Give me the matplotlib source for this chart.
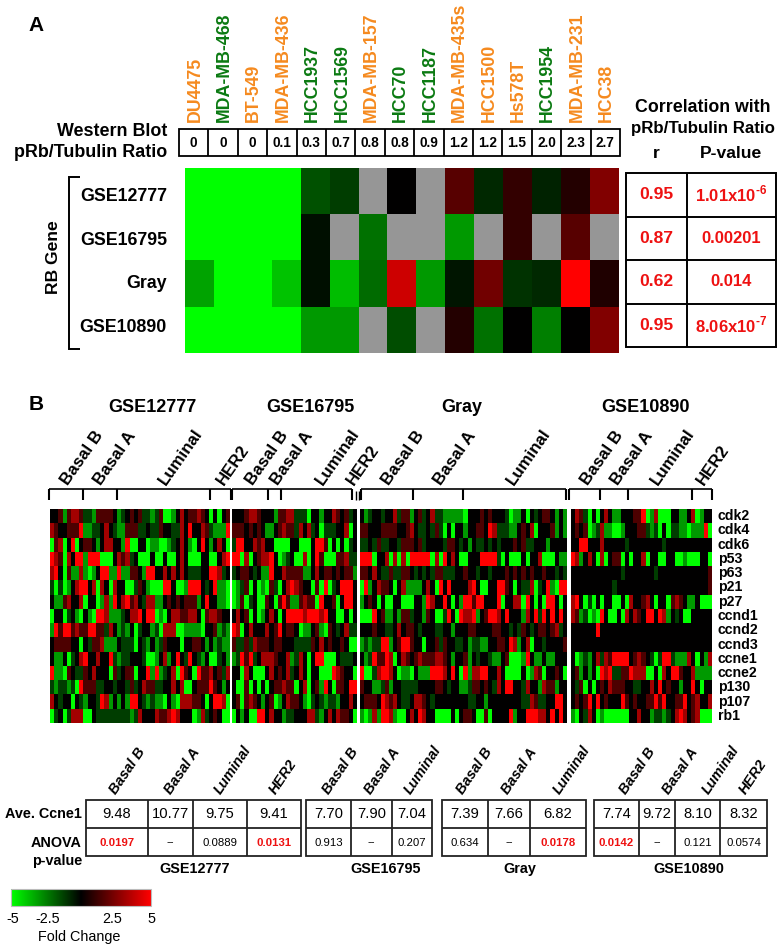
import numpy as np
import matplotlib
matplotlib.use("Agg")
import matplotlib.pyplot as plt
from matplotlib.colors import LinearSegmentedColormap, Normalize
from matplotlib.patches import Rectangle

plt.rcParams['font.family'] = ['Liberation Sans', 'DejaVu Sans']
plt.rcParams['mathtext.fontset'] = 'custom'
plt.rcParams['mathtext.bf'] = 'Liberation Sans:bold'
plt.rcParams['mathtext.rm'] = 'Liberation Sans:bold'

# ---------- Panel A data ----------
cell_lines = ["DU4475","MDA-MB-468","BT-549","MDA-MB-436","HCC1937","HCC1569","MDA-MB-157","HCC70",
              "HCC1187","MDA-MB-435s","HCC1500","Hs578T","HCC1954","MDA-MB-231","HCC38"]
cell_subtype = ["o","g","o","o","g","g","o","g","g","o","o","o","g","o","o"]
blot_ratio = ["0","0","0","0.1","0.3","0.7","0.8","0.8","0.9","1.2","1.2","1.5","2.0","2.3","2.7"]
rb_datasets = ["GSE12777","GSE16795","Gray","GSE10890"]
n = np.nan
rb_gse12777 = [-5,-5,-5,-5,-1.6,-1.2,n,0,n,1.7,-0.8,1.0,-0.7,0.7,2.5]
rb_gse16795 = [-5,-5,-5,-5,-0.3,n,-2.2,n,n,-3.0,n,1.0,n,1.7,n]
rb_gray     = [-3.2,-5,-5,-3.8,-0.3,-3.7,-2.1,4,-3,-0.4,2.2,-1.0,-0.8,5,0.6]
rb_gse10890 = [-5,-5,-5,-5,-3.0,-3.0,n,-1.5,n,0.7,-2.2,0,-2.5,0,2.5]
corr_r = ["0.95","0.87","0.62","0.95"]
corr_p = [r"1.01x10$^{\text{-6}}$","0.00201","0.014",r"8.06x10$^{\text{-7}}$"]

# ---------- Panel B data (level codes, one string per gene) ----------
genes = ["cdk2","cdk4","cdk6","p53","p63","p21","p27","ccnd1","ccnd2","ccnd3","ccne1","ccne2","p130","p107","rb1"]
level = {"G":-5.0,"g":-3.0,"d":-1.2,"k":0.0,"r":1.5,"R":3.2,"X":5.0}
hm_gse12777 = [
 "kkrgrRRrddgrrrrkgdkrkrd"+"dgdrGGgkRkrrRrkGkGkr",
 "RrkkrrrXggddkRkdggrrrdd"+"kddrkkddRkXkkRrdgggX",
 "GrRGkXGkrrkgkRRkkgXGGkk"+"GggGGgdkRkgGkXkgkRkG",
 "XRrGRkXXgXXXGGGkRrRdkGG"+"GkGGkGGkRkGGGkkGGkRX",
 "RXkGrggRgGgkXXggXggrrkg"+"XXkkRkRkRkdddkkXXRdk",
 "dGdGgkRXXkRGRkGRkkGGdrk"+"gGGGXXkGGgXXXkdkXggG",
 "kggrRkkRGkkGgRgXkRXrRkd"+"RRggkrkrkrrrgkXkkggG",
 "GkkGdkgGkgGXXRgggdkRRXk"+"XXGgGkRRrrRRkGrRRrkk",
 "gXrXXrRrrXXrrdRkgdgkGdk"+"kgdGRRRGGggggGkkrgdg",
 "krrrrkkGkdrrRgggkdddGkd"+"gkgdrkkkGkkrrkgkgdgg",
 "kggkGdkRXkkRkkXdgddkkkd"+"GGgkRgkXkdXkdgkGGdkg",
 "XggGrkddrkRkkkGrdkrrGkk"+"XgXgdkRGXrkGXrrRkrdR",
 "dgddgdGXrrrddkkdkkdrdkR"+"rrddkkRkRGGkrrrXrkgk",
 "RkdkkGkdgkkdXRgkgkgXXkdgdggGkgGRRRrrkGkXXRG",
 "GdkGdRRRGGkddddddddgdRkkkRrrRXRkkkGgRdkrkGG",
]
hm_gse16795 = [
 "kkkrRRrkkkgrrRRdddGkkgkkRrkrdk",
 "rrrkrkrkggkrRrrdRkRdkGdddkkRGk",
 "dXXkkRrRkkGGGGkkGGGkXXrGkGkGdk",
 "XXGRGkrRRXkGgdkGGRGkXrGGGrrRdd",
 "dkrrkdkggXkkRrrrrggkRkrrkrkrrg",
 "GgdrGkGgGrdGkRXRrkkGrGXGdkXXXk",
 "GgrGdkGGrkGrXrggrRrrGXkkrGkXXk",
 "kRkrGkGgkRkGkXXXXRXXXRXkkGGkGk",
 "XRGkRkkkRkrXkrrkGggkrgGrkdkRdd",
 "rddrdRrrrkrrkkkddddrkRkrkkrkGG",
 "gdXrXdkRRRrkkRgdRkGkXXGGGkdddk",
 "kkGRkGGGkRkrkRdkRkGkkGGGXRrkkG",
 "kGGrGkGkGkrrRrrGkRGkrgXkGrrkXX",
 "krGrRrkgkrGgkRrrkgGdkdgddgkkRk",
 "GkgkGGXXkRkkgddkkkRRdgkRkRrrkG",
]
hm_gray = [
 "kgdkkdkkRdrrgkrdkRddggggg"+"GkkkrkrkkkdGggkGkdkrrkgkg",
 "rrkkkrrrrkkrRkddkdrdGkGkk"+"gkkrrkXRdddggkrkRGkkkrgkg",
 "ddkdrddkkdrrrkrdkkkkdrrkd"+"kgkddkdkdkkkrkrddkkkgkkkk",
 "XXXGkkRGRGRGXXXXXGRGXkRkG"+"GkkkXXXXdGkGGGkGkkRGGGkgg",
 "rrkRkddrddrrkdkdkdrrdddkk"+"rkkdkkdkkkrkrkrkrkkrkkdkd",
 "GXgkRrrkGkRggggkRkGXkXkkk"+"kRXkGGkkXXrkGkddRGdkXgGXX",
 "gkrkGkGGkkGGGkkgXRkkXkGkg"+"XXrXXkkkXGkkRRGXkGkGXXkGk",
 "GGGXkrggkgrrdkkgrkGGdXkGX"+"RRXgkrXXRkXkkkgRkXdXkXkXk",
 "kkkrkkddkRkrrkdkkkddkkgkk"+"krrkkkkrrkkdkdrkdkrrkrRdk",
 "gdgddXXgkrXXrkkGkkrdrkkdd"+"kgddggkkrrkXRgkRGkkdkkkkr",
 "kgdXrrXRGkRrkrRrrrRRrkgkk"+"rgkdkkdggkrGGGgXkggkggkkk",
 "XGGdRXXRkGggGkgggXXXRkXkG"+"XgRRXXkkRkGGGGkGgRrGkkrkG",
 "rkkggdrgkkddddkkkkrrkdkkg"+"gdrrkrkdRkXXkkdRkkgRrrgkk",
 "krrrkXRrRkddkRRrkdkkkkkkkkddkkgkkkkkkkkddRrddkkXXk",
 "gGgRgXXRgGGkRkXRkkGGGGkGkrrkGGrGkkkkXgkkXXXRRkXkXk",
]
hm_gse10890 = [
 "kRrdGkGkRkggkkkrrXGgRGGGkkggkRGgkk",
 "krkrGgdRggGGgkkkrrdgdGkGddggGgggXG",
 "kkXXkkkRkkkkkdkkkkkkkkdkkkkkkkkkkk",
 "XRgkRkGRGkrrGkGkkRGkkGGkkGGgGGGkkG",
 "kkkkkkkkkkkkdkkkkkkkdkkkkkkkkkkkkr",
 "kkkkkkkkkkdkkkkkkkkkkkkkkkkkkkkkkr",
 "RXkGdGkGkkGGkGRkkrRkGkkGrRrkggkGGG",
 "RrgdGgGXkGGkGRkRrkXXkXRgkdkGGkkkkk",
 "kkkkkkXkkkkkkkkkkkkkkkkkkkkkkkkkkk",
 "kkkkkkkkkkkkkkkkkkkkkkkkkkkkkkkkkk",
 "kGgdgkRdRrXXXXkrRrkdGdXXdgggRkGkgR",
 "krgkgkGXRXddrrXRRRGGkGRkXXrkkRgggg",
 "kdrGkGkrkRrrrkkddkkRkXkrkkgkkXkGkk",
 "krkrXkXkrkkkXrkrkkrrXrXkkrrXkrRkkR",
 "gGkdRkGgGGGGGGkkRkkgddgdkRXRkrRGGG",
]
subtype_names = [["Basal B","Basal A","Luminal","HER2"],["Basal B","Basal A","Luminal","HER2"],
                 ["Basal B","Basal A","Luminal"],["Basal B","Basal A","Luminal","HER2"]]
ave_ccne1 = [["9.48","10.77","9.75","9.41"],["7.70","7.90","7.04"],["7.39","7.66","6.82"],["7.74","9.72","8.10","8.32"]]
anova_p = [["0.0197","--","0.0889","0.0131"],["0.913","--","0.207"],["0.634","--","0.0178"],["0.0142","--","0.121","0.0574"]]

# ---------- Layout (pixels) ----------
W, H = 783, 949
fig = plt.figure(figsize=(W/100, H/100), dpi=100, facecolor="white")
ax = fig.add_axes([0, 0, 1, 1])
cmap = LinearSegmentedColormap.from_list("gbr", ["#00FF00", "#000000", "#FF0000"])
cmap.set_bad("#969696")
norm = Normalize(-5, 5)
ORANGE, DGREEN, RED = "#F58A1F", "#0B7A12", "#EE1111"

def T(x, y, s, size=11, weight="bold", color="black", ha="center", va="center", **kw):
    return ax.text(x, y, s, fontsize=size, fontweight=weight, color=color, ha=ha, va=va, **kw)

def L(xs, ys, lw=1.4, color="black"):
    ax.plot(xs, ys, color=color, lw=lw, solid_capstyle="butt", solid_joinstyle="miter")

def grid_table(x0, x1, y0, y1, xdiv, ydiv, lw=1.3, color="black"):
    ax.add_patch(Rectangle((x0, y0), x1-x0, y1-y0, fill=False, ec=color, lw=lw))
    for x in xdiv:
        L([x, x], [y0, y1], lw, color)
    for y in ydiv:
        L([x0, x1], [y, y], lw, color)

# Panel A
T(36, 25, "A", size=15, ha="center")
for i, (name, kind) in enumerate(zip(cell_lines, cell_subtype)):
    T(195 + 29.4*i, 122, name, size=12.8, color=ORANGE if kind == "o" else DGREEN,
      rotation=90, ha="center", va="bottom")
T(167, 131, "Western Blot", size=12.9, ha="right")
T(167, 152, "pRb/Tubulin Ratio", size=12.9, ha="right")
tx = np.linspace(179, 620, len(blot_ratio)+1)
grid_table(179, 620, 128.5, 155.5, tx[1:-1], [], lw=1.3)
for i, v in enumerate(blot_ratio):
    T((tx[i]+tx[i+1])/2, 142.5, v, size=9.8)

rb = np.array([rb_gse12777, rb_gse16795, rb_gray, rb_gse10890], dtype=float)
ax.imshow(np.ma.masked_invalid(rb), cmap=cmap, norm=norm, extent=(185, 619, 353, 168),
          aspect="auto", interpolation="nearest", zorder=1)
L([80, 69, 69, 80], [177, 177, 349, 349], lw=1.4)
T(53, 257, "RB Gene", size=12.6, rotation=90)
for y, name in zip([196, 240, 283, 327], rb_datasets):
    T(167, y, name, size=12.8, ha="right")

T(703, 107, "Correlation with", size=12.8)
T(703, 128, "pRb/Tubulin Ratio", size=12.2)
T(656, 153, "r", size=12.6)
T(731, 153, "P-value", size=12.6)
ty = [173, 217, 260, 304, 347]
grid_table(626, 776, 173, 347, [687], ty[1:-1], lw=1.4)
for i in range(4):
    yc = (ty[i]+ty[i+1])/2 - 0.5
    T(656.5, yc, corr_r[i], size=12.6, color=RED)
    T(731.5, yc, corr_p[i], size=12.0, color=RED)

# Panel B
T(36, 405, "B", size=15)
panel_x = [(50, 230), (232, 357), (360, 567), (571, 712)]
heat = [hm_gse12777, hm_gse16795, hm_gray, hm_gse10890]
for (x0, x1), rows in zip(panel_x, heat):
    assert len({len(r) for r in rows}) == 1, [len(r) for r in rows]
    arr = np.array([[level[c] for c in r] for r in rows])
    ax.imshow(arr, cmap=cmap, norm=norm, extent=(x0, x1, 723, 509), aspect="auto",
              interpolation="nearest", zorder=1)
for i, g in enumerate(genes):
    T(718, 509 + (i+0.5)*214/15, g, size=10.2, ha="left")

for x, name in zip([152, 310, 462, 646], rb_datasets):
    T(x, 407, name, size=13)

top_x = [[62, 95, 160, 218], [247, 272, 317, 348], [383, 435, 508], [582, 612, 652, 698]]
for xs, names in zip(top_x, subtype_names):
    for x, nm in zip(xs, names):
        ax.text(x+6, 486, nm, fontsize=12.2, fontweight="bold", rotation=55,
                ha="left", va="baseline", rotation_mode="anchor")

brackets = [([49, 231], [49, 83, 116.5, 210, 231]),
            ([232, 352], [232, 268, 281, 352]),
            ([361, 566], [361, 413, 463, 566]),
            ([569, 712], [569, 600, 628, 692, 712])]
for (a, b), ticks in brackets:
    L([a, b], [489, 489], 1.2)
    for t in ticks:
        L([t, t], [489, 500], 1.5)
for t in [356, 358.5]:
    L([t, t], [491, 500], 1.0)

# Bottom tables
boxes = [(86, 301, [148, 193, 247]), (306, 432, [351, 391.5]),
         (442, 586, [488, 529.5]), (594, 767, [639, 675, 720])]
low_x = [[112, 167, 217, 272], [325, 367, 407], [459, 504, 556], [622, 665, 705, 742]]
for b, (x0, x1, dv) in enumerate(boxes):
    grid_table(x0, x1, 799.5, 856, dv, [828], lw=1.3, color="#222222")
    edges = [x0] + dv + [x1]
    for i in range(len(edges)-1):
        xc = (edges[i]+edges[i+1])/2
        T(xc, 814, ave_ccne1[b][i], size=10.6, weight="normal")
        p = anova_p[b][i]
        hit = p in ("0.0197", "0.0131", "0.0178", "0.0142")
        T(xc, 842.5, p, size=8.2, weight="bold" if hit else "normal", color=RED if hit else "black")
        ax.text(low_x[b][i]+4, 795, subtype_names[b][i], fontsize=10.4, fontweight="bold",
                fontstyle="italic", rotation=56, ha="left", va="baseline", rotation_mode="anchor")
T(82, 814, "Ave. Ccne1", size=10.4, ha="right")
T(82, 843, "ANOVA", size=10.4, ha="right")
T(82, 861, "p-value", size=10.4, ha="right")
for x, name in zip([195, 386, 520, 689], rb_datasets):
    T(x, 869, name, size=10.4)

# Colour key
grad = np.linspace(-5, 5, 256).reshape(1, -1)
ax.imshow(grad, cmap=cmap, norm=norm, extent=(11, 151, 906, 889), aspect="auto", zorder=1)
ax.add_patch(Rectangle((11, 889), 140, 17, fill=False, ec="#BBBBBB", lw=0.8, zorder=2))
for x, s in zip([13, 48, 112, 151], ["-5", "-2.5", "2.5", "5"]):
    T(x, 919, s, size=10.4, weight="normal")
T(79, 937, "Fold Change", size=10.4, weight="normal")

ax.set_xlim(0, W)
ax.set_ylim(H, 0)
ax.axis("off")
fig.savefig("out.png", dpi=100, facecolor="white")
